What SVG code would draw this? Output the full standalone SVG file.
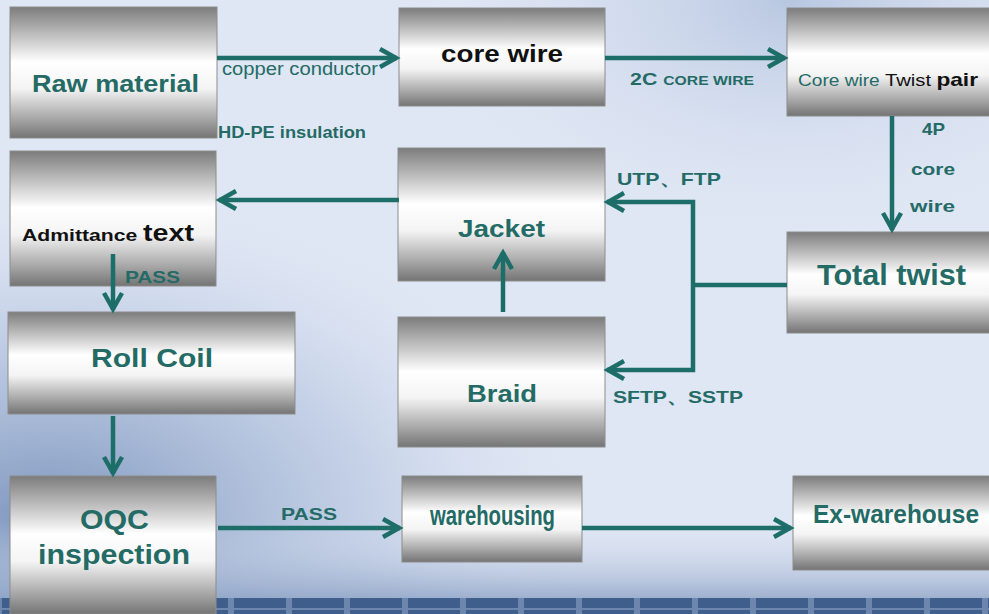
<svg xmlns="http://www.w3.org/2000/svg" width="989" height="614" viewBox="0 0 989 614">
<defs>
<linearGradient id="metal" x1="0" y1="0" x2="0" y2="1">
<stop offset="0" stop-color="#7c7c7c"/>
<stop offset="0.18" stop-color="#b4b4b4"/>
<stop offset="0.42" stop-color="#ffffff"/>
<stop offset="0.62" stop-color="#f4f4f4"/>
<stop offset="0.85" stop-color="#a8a8a8"/>
<stop offset="1" stop-color="#747474"/>
</linearGradient>
<radialGradient id="bl" cx="0.05" cy="0.85" r="0.55">
<stop offset="0" stop-color="#6f8ab5" stop-opacity="0.9"/>
<stop offset="0.6" stop-color="#9fb3d4" stop-opacity="0.4"/>
<stop offset="1" stop-color="#dfe6f4" stop-opacity="0"/>
</radialGradient>
<radialGradient id="tr" cx="0.8" cy="0" r="0.4">
<stop offset="0" stop-color="#aebfdc" stop-opacity="0.8"/>
<stop offset="1" stop-color="#dfe6f4" stop-opacity="0"/>
</radialGradient>
<linearGradient id="bot" x1="0" y1="0" x2="0" y2="1">
<stop offset="0" stop-color="#dfe6f4" stop-opacity="0"/>
<stop offset="1" stop-color="#8aa0c4" stop-opacity="0.8"/>
</linearGradient>
<pattern id="tiles" x="0" y="0" width="58" height="16" patternUnits="userSpaceOnUse">
<rect x="0" y="0" width="58" height="16" fill="#6d86ad"/>
<rect x="2" y="2" width="52" height="14" fill="#3f5e8c"/>
</pattern>
<marker id="ah" markerUnits="userSpaceOnUse" markerWidth="26" markerHeight="26" refX="22" refY="13" orient="auto">
<path d="M5,4 L21,13 L5,22" fill="none" stroke="#1d6d68" stroke-width="4.5" stroke-linejoin="miter"/>
</marker>
</defs>
<style>
.box{fill:url(#metal);stroke:#8c8c8c;stroke-width:1}
.t{font-family:"Liberation Sans",Arial,sans-serif;font-weight:bold;fill:#246b66}
.k{fill:#111}
.lbl{font-family:"Liberation Sans",Arial,sans-serif;font-weight:bold;fill:#246b66}
.reg{font-weight:normal}
.c{fill:none;stroke:#1d6d68;stroke-width:4.5}
</style>
<rect x="0" y="0" width="989" height="614" fill="#dfe6f4"/>
<rect x="0" y="0" width="989" height="614" fill="url(#tr)"/>
<rect x="0" y="0" width="989" height="614" fill="url(#bl)"/>
<rect x="0" y="520" width="989" height="80" fill="url(#bot)"/>
<rect x="0" y="598" width="989" height="16" fill="url(#tiles)"/>

<g id="raw-material"><rect class="box" x="10" y="7" width="207" height="131"/><text class="t" x="32" y="92" font-size="24" textLength="167" lengthAdjust="spacingAndGlyphs">Raw material</text></g>
<g id="core-wire"><rect class="box" x="399" y="8" width="206" height="98"/><text class="t k" x="441" y="62" font-size="24" textLength="122" lengthAdjust="spacingAndGlyphs">core wire</text></g>
<g id="twist-pair"><rect class="box" x="787" y="8" width="210" height="108"/><text x="798" y="86" font-family="Liberation Sans,Arial,sans-serif" font-size="16" fill="#246b66" textLength="180" lengthAdjust="spacingAndGlyphs">Core wire <tspan fill="#111" font-size="17">Twist</tspan> <tspan fill="#111" font-size="19" font-weight="bold">pair</tspan></text></g>
<g id="admittance"><rect class="box" x="10" y="151" width="206" height="135"/><text x="22" y="241" font-family="Liberation Sans,Arial,sans-serif" font-weight="bold" font-size="17" fill="#111" textLength="172" lengthAdjust="spacingAndGlyphs">Admittance <tspan font-size="23">text</tspan></text></g>
<g id="jacket"><rect class="box" x="398" y="148" width="207" height="133"/><text class="t" x="458" y="237" font-size="24" textLength="87" lengthAdjust="spacingAndGlyphs">Jacket</text></g>
<g id="total-twist"><rect class="box" x="787" y="232" width="210" height="101"/><text class="t" x="817" y="285" font-size="29" textLength="149" lengthAdjust="spacingAndGlyphs">Total twist</text></g>
<g id="roll-coil"><rect class="box" x="8" y="312" width="287" height="102"/><text class="t" x="91" y="367" font-size="25" textLength="122" lengthAdjust="spacingAndGlyphs">Roll Coil</text></g>
<g id="braid"><rect class="box" x="398" y="317" width="207" height="130"/><text class="t" x="467" y="402" font-size="24" textLength="70" lengthAdjust="spacingAndGlyphs">Braid</text></g>
<g id="oqc"><rect class="box" x="10" y="476" width="206" height="138"/><text class="t" x="80" y="529" font-size="27" textLength="69" lengthAdjust="spacingAndGlyphs">OQC</text><text class="t" x="38" y="564" font-size="28" textLength="152" lengthAdjust="spacingAndGlyphs">inspection</text></g>
<g id="warehousing"><rect class="box" x="402" y="476" width="180" height="86"/><text class="t" x="430" y="525" font-size="27" textLength="125" lengthAdjust="spacingAndGlyphs">warehousing</text></g>
<g id="ex-warehouse"><rect class="box" x="793" y="476" width="204" height="94"/><text class="t" x="813" y="523" font-size="25" textLength="166" lengthAdjust="spacingAndGlyphs">Ex-warehouse</text></g>

<g id="connectors">
<line class="c" x1="217" y1="58" x2="397" y2="58" marker-end="url(#ah)"/>
<line class="c" x1="605" y1="58" x2="785" y2="58" marker-end="url(#ah)"/>
<line class="c" x1="892" y1="116" x2="892" y2="230" marker-end="url(#ah)"/>
<line class="c" x1="787" y1="285" x2="693" y2="285"/>
<polyline class="c" points="693,285 693,202 607,202" marker-end="url(#ah)"/>
<polyline class="c" points="693,285 693,370 607,370" marker-end="url(#ah)"/>
<line class="c" x1="503" y1="312" x2="503" y2="252" marker-end="url(#ah)"/>
<line class="c" x1="399" y1="200" x2="219" y2="200" marker-end="url(#ah)"/>
<line class="c" x1="113" y1="254" x2="113" y2="310" marker-end="url(#ah)"/>
<line class="c" x1="113" y1="416" x2="113" y2="474" marker-end="url(#ah)"/>
<line class="c" x1="218" y1="528" x2="400" y2="528" marker-end="url(#ah)"/>
<line class="c" x1="582" y1="528" x2="791" y2="528" marker-end="url(#ah)"/>
<text class="lbl reg" x="222" y="75" font-size="18" textLength="156" lengthAdjust="spacingAndGlyphs">copper conductor</text>
<text class="lbl" x="218" y="138" font-size="16" textLength="148" lengthAdjust="spacingAndGlyphs">HD-PE insulation</text>
<text class="lbl" x="630" y="85" font-size="17" textLength="124" lengthAdjust="spacingAndGlyphs">2C <tspan font-size="12.5">CORE WIRE</tspan></text>
<text class="lbl" x="922" y="135" font-size="17" textLength="23" lengthAdjust="spacingAndGlyphs">4P</text>
<text class="lbl" x="911" y="175" font-size="17" textLength="44" lengthAdjust="spacingAndGlyphs">core</text>
<text class="lbl" x="910" y="212" font-size="17" textLength="45" lengthAdjust="spacingAndGlyphs">wire</text>
<text class="lbl" x="617" y="185" font-size="17" textLength="104" lengthAdjust="spacingAndGlyphs">UTP、FTP</text>
<text class="lbl" x="613" y="403" font-size="17" textLength="130" lengthAdjust="spacingAndGlyphs">SFTP、SSTP</text>
<text class="lbl" x="125" y="283" font-size="17" textLength="55" lengthAdjust="spacingAndGlyphs">PASS</text>
<text class="lbl" x="281" y="520" font-size="17" textLength="56" lengthAdjust="spacingAndGlyphs">PASS</text>
</g>
</svg>
